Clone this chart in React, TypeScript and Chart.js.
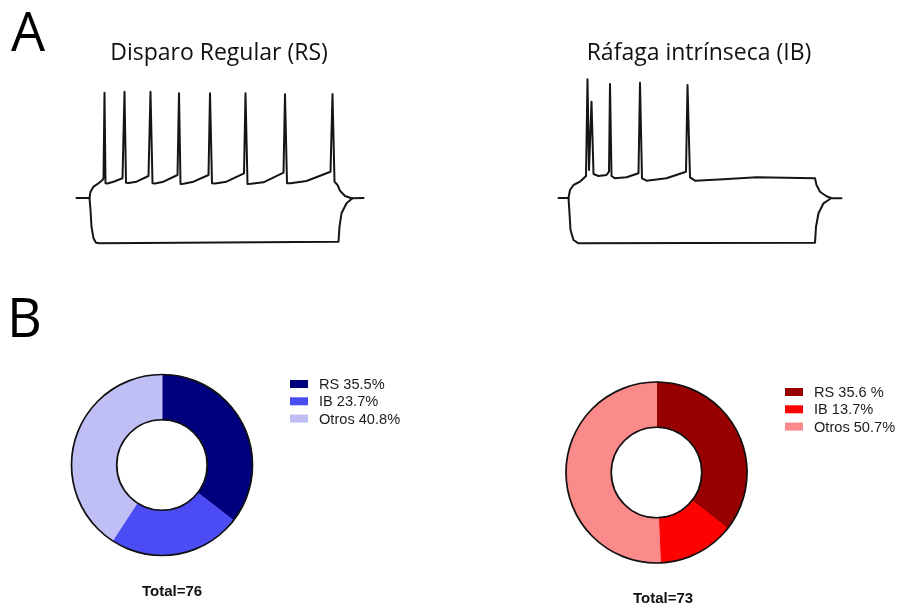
import React, { useEffect, useRef } from "react";
import { Chart, registerables } from "chart.js";

Chart.register(...registerables);

const W = 899;
const H = 609;

// Membrane potential recordings: time in ms, potential in mV.
// Regular spiking (RS) cell, depolarising current step
const rsDepolTime = [33, 59, 61, 67, 77, 85, 87, 89, 91, 95, 107, 125, 129, 132, 137, 153, 177, 181, 185, 190, 207, 235, 238, 241, 247, 267, 297, 300, 304, 310, 333, 368, 371, 375, 382, 407, 447, 450, 454, 461, 493, 541, 545, 549, 555, 560, 570, 583, 607];
const rsDepolMv = [-70, -70, -63.7, -58.7, -55.3, -52, -50.3, 35.3, -55.3, -55.5, -53.7, -50.3, 36.3, -54.7, -55, -53.7, -48, 36.3, -55.3, -55.5, -53.7, -47, 34.7, -56, -55.8, -53.7, -47, 34.7, -55.3, -55.5, -53.7, -45.3, 34.7, -56, -55.8, -54.3, -44.7, 33.7, -55.3, -55.3, -53, -43.7, 34, -53.7, -57, -62.7, -68, -70.3, -70];
// RS cell, hyperpolarising current step
const rsHyperTime = [59, 61, 63, 67, 72, 80, 557, 559, 563, 573, 585];
const rsHyperMv = [-70, -82, -98.7, -110.3, -114.7, -115.3, -113.7, -98.7, -85.3, -75.3, -70.3];

// Intrinsic bursting (IB) cell, depolarising current step
const ibDepolTime = [37, 57, 60, 67, 80, 92, 95, 98, 103, 107, 117, 133, 138, 140, 143, 150, 173, 197, 200, 204, 213, 253, 292, 295, 300, 310, 367, 433, 550, 553, 560, 573, 583, 603];
const ibDepolMv = [-70, -70, -62, -57, -53.7, -48, 48.7, -42, 26.3, -46, -48, -47, -43.7, 44, -48, -50.3, -49.3, -45.3, 45.3, -50.3, -52.7, -50.3, -43.7, 43, -49.3, -52.7, -51.3, -49.3, -50.3, -57, -63.7, -68.3, -70.3, -70.3];
// IB cell, hyperpolarising current step
const ibHyperTime = [57, 59, 61, 67, 77, 550, 552, 557, 567, 580];
const ibHyperMv = [-70, -85.3, -102, -112, -115.3, -114.7, -98.7, -85.3, -75.3, -71];

// Firing-pattern proportions (%) for the two recorded populations
const categories = ["RS", "IB", "Otros"];
const sharesN76 = [35.5, 23.7, 40.8];
const sharesN73 = [35.6, 13.7, 50.7];
const legendN76 = ["RS 35.5%", "IB 23.7%", "Otros 40.8%"];
const legendN73 = ["RS 35.6 %", "IB 13.7%", "Otros 50.7%"];
const totals = [76, 73];

const bluePalette = ["#00007e", "#4c4cf4", "#bfbff6"];
const redPalette = ["#980000", "#fe0202", "#fb8a8a"];

type TextItem = {
  text: string;
  x: number;
  y: number;
  font: string;
  align?: CanvasTextAlign;
  color?: string;
};

function textPlugin(items: TextItem[]) {
  return {
    id: "figureText",
    afterDraw(chart: any) {
      const ctx: CanvasRenderingContext2D = chart.ctx;
      ctx.save();
      for (const t of items) {
        ctx.font = t.font;
        ctx.fillStyle = t.color ?? "#111";
        ctx.textAlign = t.align ?? "left";
        ctx.textBaseline = "alphabetic";
        ctx.fillText(t.text, t.x, t.y);
      }
      ctx.restore();
    },
  };
}

type Area = { left: number; top: number; right: number; bottom: number };

function TraceChart(props: {
  depolT: number[];
  depolV: number[];
  hyperT: number[];
  hyperV: number[];
  area: Area;
  texts: TextItem[];
}) {
  const ref = useRef<HTMLCanvasElement>(null);
  useEffect(() => {
    const { depolT, depolV, hyperT, hyperV, area, texts } = props;
    const pts = (t: number[], v: number[]) => t.map((x, i) => ({ x, y: v[i] }));
    const lineStyle = {
      borderColor: "#151515",
      borderWidth: 2,
      pointRadius: 0,
      tension: 0,
      fill: false,
      borderJoinStyle: "round" as const,
      borderCapStyle: "round" as const,
    };
    const chart = new Chart(ref.current!, {
      type: "line",
      data: {
        datasets: [
          { data: pts(depolT, depolV), ...lineStyle },
          { data: pts(hyperT, hyperV), ...lineStyle },
        ],
      },
      options: {
        responsive: false,
        animation: false,
        events: [],
        layout: {
          padding: { left: area.left, top: area.top, right: W - area.right, bottom: H - area.bottom },
        },
        scales: {
          x: { type: "linear", min: 0, max: 640, display: false },
          y: { type: "linear", min: -132, max: 58, display: false },
        },
        plugins: { legend: { display: false }, tooltip: { enabled: false } },
      },
      plugins: [textPlugin(texts)],
    });
    return () => chart.destroy();
  }, []);
  return <canvas ref={ref} width={W} height={H} style={{ position: "absolute", left: 0, top: 0 }} />;
}

function ShareDonut(props: {
  values: number[];
  colors: string[];
  legend: string[];
  cx: number;
  cy: number;
  side: number;
  legendX: number;
  legendY: number;
  texts: TextItem[];
}) {
  const ref = useRef<HTMLCanvasElement>(null);
  useEffect(() => {
    const { values, colors, legend, cx, cy, side, legendX, legendY, texts } = props;
    const left = cx - side / 2;
    const top = cy - side / 2;

    const outline = {
      id: "ringOutline",
      afterDatasetsDraw(chart: any) {
        const arc = chart.getDatasetMeta(0).data[0];
        const { x, y, outerRadius, innerRadius } = arc.getProps(["x", "y", "outerRadius", "innerRadius"]);
        const ctx: CanvasRenderingContext2D = chart.ctx;
        ctx.save();
        ctx.strokeStyle = "#111";
        ctx.lineWidth = 1.7;
        ctx.beginPath();
        ctx.arc(x, y, outerRadius, 0, Math.PI * 2);
        ctx.stroke();
        ctx.beginPath();
        ctx.arc(x, y, innerRadius, 0, Math.PI * 2);
        ctx.stroke();
        ctx.restore();
      },
    };

    const legendBoxes = {
      id: "sideLegend",
      afterDraw(chart: any) {
        const ctx: CanvasRenderingContext2D = chart.ctx;
        const labels: string[] = chart.data.labels;
        const bg: string[] = chart.data.datasets[0].backgroundColor;
        ctx.save();
        ctx.font = "14.6px 'Liberation Sans', Arial, sans-serif";
        ctx.textBaseline = "middle";
        ctx.textAlign = "left";
        labels.forEach((_, i) => {
          const y = legendY + i * 17.3;
          ctx.fillStyle = bg[i];
          ctx.fillRect(legendX, y - 4, 18, 8);
          ctx.fillStyle = "#1c1c1c";
          ctx.fillText(legend[i], legendX + 29, y + 1);
        });
        ctx.restore();
      },
    };

    const chart = new Chart(ref.current!, {
      type: "doughnut",
      data: {
        labels: categories,
        datasets: [
          {
            data: values,
            backgroundColor: colors,
            borderColor: colors,
            borderWidth: 1,
            hoverOffset: 0,
          },
        ],
      },
      options: {
        responsive: false,
        animation: false,
        events: [],
        cutout: "50%",
        layout: {
          padding: { left, top, right: W - left - side, bottom: H - top - side },
        },
        plugins: { legend: { display: false }, tooltip: { enabled: false } },
      },
      plugins: [outline, legendBoxes, textPlugin(texts)],
    });
    return () => chart.destroy();
  }, []);
  return <canvas ref={ref} width={W} height={H} style={{ position: "absolute", left: 0, top: 0 }} />;
}

const titleFont = "23px 'Open Sans', sans-serif";
const letterFont = "54px 'Open Sans', sans-serif";
const totalFont = "bold 15px 'Liberation Sans', Arial, sans-serif";

export default function App() {
  return (
    <div
      style={{
        position: "absolute",
        left: 0,
        top: 0,
        width: W,
        height: H,
        background: "#fff",
        overflow: "hidden",
      }}
    >
      <TraceChart
        depolT={rsDepolTime}
        depolV={rsDepolMv}
        hyperT={rsHyperTime}
        hyperV={rsHyperMv}
        area={{ left: 60, top: 70, right: 380, bottom: 260 }}
        texts={[
          { text: "A", x: 11, y: 51, font: letterFont, color: "#000" },
          { text: "Disparo Regular (RS)", x: 219, y: 60, font: titleFont, align: "center" },
        ]}
      />
      <TraceChart
        depolT={ibDepolTime}
        depolV={ibDepolMv}
        hyperT={ibHyperTime}
        hyperV={ibHyperMv}
        area={{ left: 540, top: 70, right: 860, bottom: 260 }}
        texts={[{ text: "Ráfaga intrínseca (IB)", x: 699, y: 60, font: titleFont, align: "center" }]}
      />
      <ShareDonut
        values={sharesN76}
        colors={bluePalette}
        legend={legendN76}
        cx={162}
        cy={465}
        side={182}
        legendX={290}
        legendY={384}
        texts={[
          { text: "B", x: 7, y: 337, font: letterFont, color: "#000" },
          { text: `Total=${totals[0]}`, x: 172, y: 596, font: totalFont, align: "center" },
        ]}
      />
      <ShareDonut
        values={sharesN73}
        colors={redPalette}
        legend={legendN73}
        cx={656.5}
        cy={472.5}
        side={182}
        legendX={785}
        legendY={392}
        texts={[{ text: `Total=${totals[1]}`, x: 663, y: 603, font: totalFont, align: "center" }]}
      />
    </div>
  );
}
